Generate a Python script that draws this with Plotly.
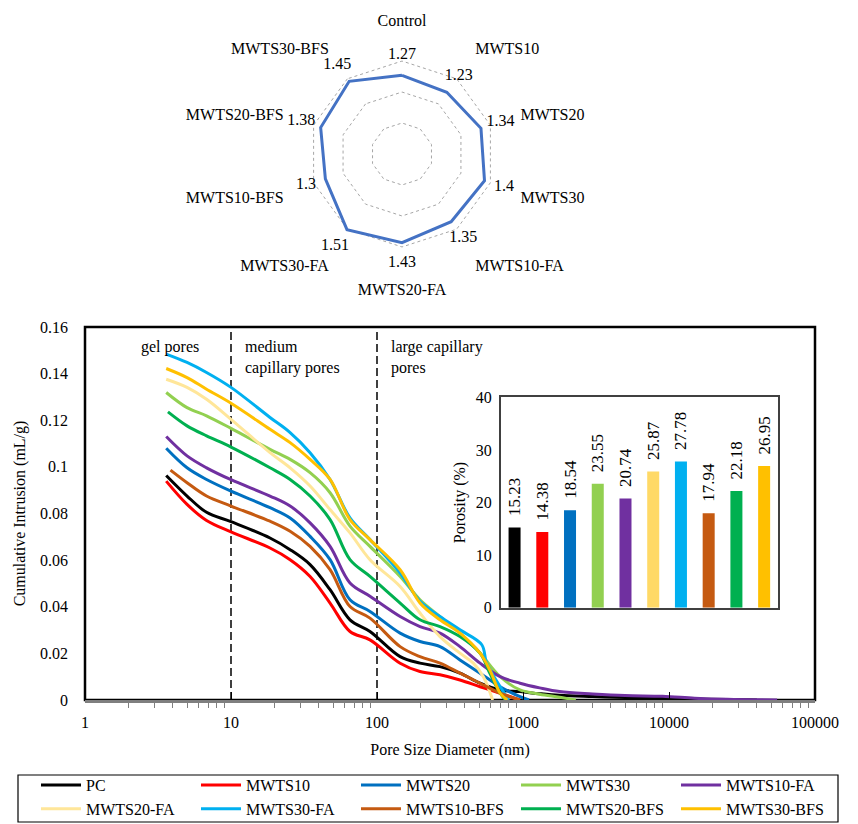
import plotly.graph_objects as go

FONT = "Liberation Serif, Times New Roman, serif"

# ---------------- radar data ----------------
RADAR_LABELS = ["Control", "MWTS10", "MWTS20", "MWTS30", "MWTS10-FA",
                "MWTS20-FA", "MWTS30-FA", "MWTS10-BFS", "MWTS20-BFS", "MWTS30-BFS"]
RADAR_VALUES = [1.27, 1.23, 1.34, 1.40, 1.35, 1.43, 1.51, 1.30, 1.38, 1.45]

# ---------------- main curves ----------------
SERIES = ["PC", "MWTS10", "MWTS20", "MWTS30", "MWTS10-FA",
          "MWTS20-FA", "MWTS30-FA", "MWTS10-BFS", "MWTS20-BFS", "MWTS30-BFS"]
LINE_COLORS = ["#000000", "#FF0000", "#0070C0", "#92D050", "#7030A0",
               "#FFE699", "#00B0F0", "#C55A11", "#00B050", "#FFC000"]
BAR_COLORS = ["#000000", "#FF0000", "#0070C0", "#92D050", "#7030A0",
              "#FFD966", "#00B0F0", "#C55A11", "#00B050", "#FFC000"]

PC_X = [3.6, 5, 6.8, 10, 18.5, 25.4, 34.8, 47.7, 65.3, 89.5, 144, 197, 270, 370, 508, 698,
        954, 1300, 1780, 3000, 5000, 9000, 15000, 25000, 40000]
PC_Y = [0.0963, 0.0875, 0.0805, 0.0765, 0.0695, 0.0645, 0.0581, 0.0473, 0.0344, 0.0294,
        0.0186, 0.0158, 0.0143, 0.0115, 0.0072, 0.0043, 0.0036, 0.0027, 0.002, 0.0015, 0.0011, 0.0008,
        0.0004, 0.0002, 0.0]

M10_X = [3.6, 5, 6.8, 10, 18.5, 25.4, 34.8, 47.7, 65.3, 89.5, 144, 197, 270, 370, 508, 698, 954]
M10_Y = [0.0939, 0.0839, 0.077, 0.0721, 0.0652, 0.0602, 0.053, 0.0416, 0.0294, 0.0258,
         0.0158, 0.0122, 0.0108, 0.0086, 0.0057, 0.0029, 0.0]

M20_X = [3.6, 5, 6.8, 10, 18.5, 25.4, 34.8, 47.7, 65.3, 89.5, 144, 197, 270, 370, 508, 698,
         954, 1100]
M20_Y = [0.108, 0.0996, 0.0946, 0.0896, 0.0825, 0.0781, 0.0702, 0.0602, 0.043, 0.038,
         0.0287, 0.0251, 0.0229, 0.0172, 0.0115, 0.0057, 0.0014, 0.0]

M30_X = [3.6, 5, 6.8, 10, 18.5, 25.4, 34.8, 47.7, 65.3, 89.5, 144, 197, 270, 370, 508, 698,
         954, 1300, 1780, 2300]
M30_Y = [0.1319, 0.1254, 0.1219, 0.1165, 0.1075, 0.1032, 0.0975, 0.0889, 0.0746, 0.0659,
         0.053, 0.043, 0.0358, 0.0287, 0.0201, 0.01, 0.0043, 0.0025, 0.0012, 0.0]

M10FA_X = [3.6, 5, 6.8, 10, 18.5, 25.4, 34.8, 47.7, 65.3, 89.5, 144, 197, 270, 370, 508, 698,
           954, 1300, 1780, 3000, 5000, 9000, 15000, 25000, 55000]
M10FA_Y = [0.113, 0.1047, 0.0996, 0.0945, 0.0875, 0.0832, 0.076, 0.0659, 0.0502, 0.0445,
           0.0358, 0.0315, 0.0287, 0.0229, 0.0158, 0.01, 0.0072, 0.0052, 0.0036, 0.0026, 0.0019, 0.0016,
           0.0008, 0.0003, 0.0]

M20FA_X = [3.6, 5, 6.8, 10, 18.5, 25.4, 34.8, 47.7, 65.3, 89.5, 144, 197, 270, 370, 457, 535, 620]
M20FA_Y = [0.1376, 0.1341, 0.129, 0.1204, 0.1061, 0.0996, 0.0918, 0.0817, 0.0717, 0.0602,
           0.0487, 0.0373, 0.0272, 0.0201, 0.0158, 0.01, 0.0]

M30FA_X = [3.6, 5, 6.8, 10, 18.5, 25.4, 34.8, 47.7, 65.3, 89.5, 144, 197, 270, 370, 522, 563,
           698, 800]
M30FA_Y = [0.1484, 0.1448, 0.1405, 0.1341, 0.1212, 0.1147, 0.1061, 0.0946, 0.0781, 0.0688,
           0.0545, 0.0423, 0.0358, 0.0301, 0.0237, 0.0158, 0.0057, 0.0]

M10BFS_X = [3.85, 5, 6.8, 10, 18.5, 25.4, 34.8, 47.7, 65.3, 89.5, 144, 197, 270, 370, 508, 698, 954]
M10BFS_Y = [0.0986, 0.0932, 0.0875, 0.0832, 0.0767, 0.0724, 0.0659, 0.0559, 0.0401, 0.0351,
            0.0229, 0.0186, 0.0158, 0.0115, 0.0072, 0.0029, 0.0]

M20BFS_X = [3.7, 5, 6.8, 10, 18.5, 25.4, 34.8, 47.7, 65.3, 89.5, 144, 197, 270, 370, 508, 592,
            698, 760]
M20BFS_Y = [0.1236, 0.1176, 0.1133, 0.1085, 0.0996, 0.0946, 0.0875, 0.0774, 0.0602, 0.053,
            0.0416, 0.0344, 0.0315, 0.0272, 0.0201, 0.0115, 0.0029, 0.0]

M30BFS_X = [3.6, 5, 6.8, 10, 18.5, 25.4, 34.8, 47.7, 65.3, 89.5, 144, 197, 270, 370, 508, 592,
            698, 780]
M30BFS_Y = [0.1422, 0.1383, 0.1333, 0.1273, 0.1161, 0.1104, 0.1032, 0.0946, 0.0774, 0.0688,
            0.0559, 0.0416, 0.0344, 0.0287, 0.0201, 0.0129, 0.0029, 0.0]

CURVES_X = [PC_X, M10_X, M20_X, M30_X, M10FA_X, M20FA_X, M30FA_X, M10BFS_X, M20BFS_X, M30BFS_X]
CURVES_Y = [PC_Y, M10_Y, M20_Y, M30_Y, M10FA_Y, M20FA_Y, M30FA_Y, M10BFS_Y, M20BFS_Y, M30BFS_Y]

# ---------------- inset bars ----------------
POROSITY = [15.23, 14.38, 18.54, 23.55, 20.74, 25.87, 27.78, 17.94, 22.18, 26.95]

# ---------------- axis ticks ----------------
X_TICKS = [1, 10, 100, 1000, 10000, 100000]
Y_TICKS = [0, 0.02, 0.04, 0.06, 0.08, 0.1, 0.12, 0.14, 0.16]
Y_TICK_TEXT = ["0", "0.02", "0.04", "0.06", "0.08", "0.1", "0.12", "0.14", "0.16"]
REGION_LINES = [10, 100]

W, H = 858, 824


def px_x(p):
    return p / W


def px_y(p):
    return 1 - p / H


fig = go.Figure()

# radar
fig.add_trace(go.Scatterpolar(
    r=RADAR_VALUES + RADAR_VALUES[:1], theta=RADAR_LABELS + RADAR_LABELS[:1],
    mode="lines", line=dict(color="#4472C4", width=3), showlegend=False, hoverinfo="skip"))
fig.add_trace(go.Scatterpolar(
    r=[v + 0.33 for v in RADAR_VALUES], theta=RADAR_LABELS, mode="text",
    text=[f"{v:g}" for v in RADAR_VALUES], textfont=dict(size=16, family=FONT, color="black"),
    showlegend=False, hoverinfo="skip"))

# region dashed lines
for xv in REGION_LINES:
    fig.add_trace(go.Scatter(x=[xv, xv], y=[0, 0.16], mode="lines",
                             line=dict(color="black", width=1.5, dash="8px,4px"),
                             showlegend=False, hoverinfo="skip", xaxis="x", yaxis="y"))

# curves
for name, col, xs, ys in zip(SERIES, LINE_COLORS, CURVES_X, CURVES_Y):
    fig.add_trace(go.Scatter(x=xs, y=ys, mode="lines", name=name,
                             line=dict(color=col, width=3, shape="spline", smoothing=1.0),
                             xaxis="x", yaxis="y"))

# inset bars
fig.add_trace(go.Bar(
    x=SERIES, y=POROSITY, marker=dict(color=BAR_COLORS, line=dict(width=0)),
    text=["\u00a0\u00a0" + f"{v:.2f}" for v in POROSITY], textposition="outside", textangle=-90,
    constraintext="none", cliponaxis=False,
    textfont=dict(size=17, family=FONT, color="black"),
    showlegend=False, hoverinfo="skip", xaxis="x2", yaxis="y2"))

minor_vals = [m * 10 ** k for k in range(5) for m in range(2, 10)]

fig.update_layout(
    width=W, height=H,
    margin=dict(l=0, r=0, t=0, b=0, autoexpand=False),
    paper_bgcolor="white", plot_bgcolor="rgba(0,0,0,0)",
    font=dict(family=FONT, size=16, color="black"),
    polar=dict(
        domain=dict(x=[px_x(278), px_x(526)], y=[px_y(278), px_y(30)]),
        bgcolor="white", gridshape="linear",
        radialaxis=dict(range=[0, 2.001], tickvals=[0.5, 1, 1.5, 2], showticklabels=False,
                        ticks="", showline=False, gridcolor="#A6A6A6", griddash="dot", gridwidth=1),
        angularaxis=dict(direction="clockwise", rotation=90, showgrid=False, showline=False,
                         ticks="", tickfont=dict(size=16, family=FONT, color="black")),
    ),
    xaxis=dict(type="log", range=[0, 5], domain=[px_x(85), px_x(815)], anchor="y",
               tickvals=X_TICKS, ticktext=[str(v) for v in X_TICKS],
               ticks="inside", ticklen=8, tickwidth=1, tickcolor="black",
               minor=dict(tickvals=minor_vals, ticks="outside", ticklen=5, tickcolor="#7F7F7F"),
               showline=True, linecolor="#7F7F7F", linewidth=3, showgrid=False, zeroline=False,
               ticklabelstandoff=6,
               title=dict(text="Pore Size Diameter (nm)", standoff=14, font=dict(size=16))),
    yaxis=dict(range=[0, 0.16], domain=[px_y(700), px_y(327)], anchor="x",
               tickvals=Y_TICKS, ticktext=Y_TICK_TEXT, ticks="", showline=False,
               showgrid=False, zeroline=False, ticklabelstandoff=16,
               title=dict(text="Cumulative Intrusion (mL/g)", standoff=10, font=dict(size=16))),
    xaxis2=dict(domain=[px_x(500.7), px_x(778)], anchor="y2", showticklabels=False, ticks="",
                showline=True, mirror=True, linecolor="#404040", linewidth=1.5, showgrid=False),
    yaxis2=dict(domain=[px_y(607.7), px_y(397.3)], anchor="x2", range=[0, 40], dtick=10,
                showline=True, mirror=True, linecolor="#404040", linewidth=1.5, showgrid=False,
                zeroline=False, ticks="", ticklabelstandoff=4,
                title=dict(text="Porosity (%)", standoff=6, font=dict(size=16))),
    bargap=0.567,
    legend=dict(orientation="h", x=px_x(36), y=px_y(768), xanchor="left", yanchor="top",
                entrywidth=105, borderwidth=0, bgcolor="rgba(0,0,0,0)",
                font=dict(size=16, family=FONT), itemwidth=40, tracegroupgap=0),
    shapes=[
        dict(type="rect", xref="x domain", yref="y domain", x0=0, x1=1, y0=0, y1=1,
             line=dict(color="black", width=2.5), layer="below"),
        dict(type="rect", xref="paper", yref="paper", x0=px_x(18), x1=px_x(838),
             y0=px_y(822), y1=px_y(775), line=dict(color="black", width=1.2)),
    ],
    annotations=[
        dict(text="gel pores", xref="paper", yref="paper", x=px_x(139), y=px_y(336),
             xanchor="left", yanchor="top", showarrow=False, align="left", font=dict(size=16)),
        dict(text="medium<br>capillary pores", xref="paper", yref="paper", x=px_x(243), y=px_y(336),
             xanchor="left", yanchor="top", showarrow=False, align="left", font=dict(size=16)),
        dict(text="large capillary<br>pores", xref="paper", yref="paper", x=px_x(389), y=px_y(336),
             xanchor="left", yanchor="top", showarrow=False, align="left", font=dict(size=16)),
    ],
)

fig.write_html("out.html", config={"displayModeBar": False},
               post_script="document.body.style.margin='0px';")
